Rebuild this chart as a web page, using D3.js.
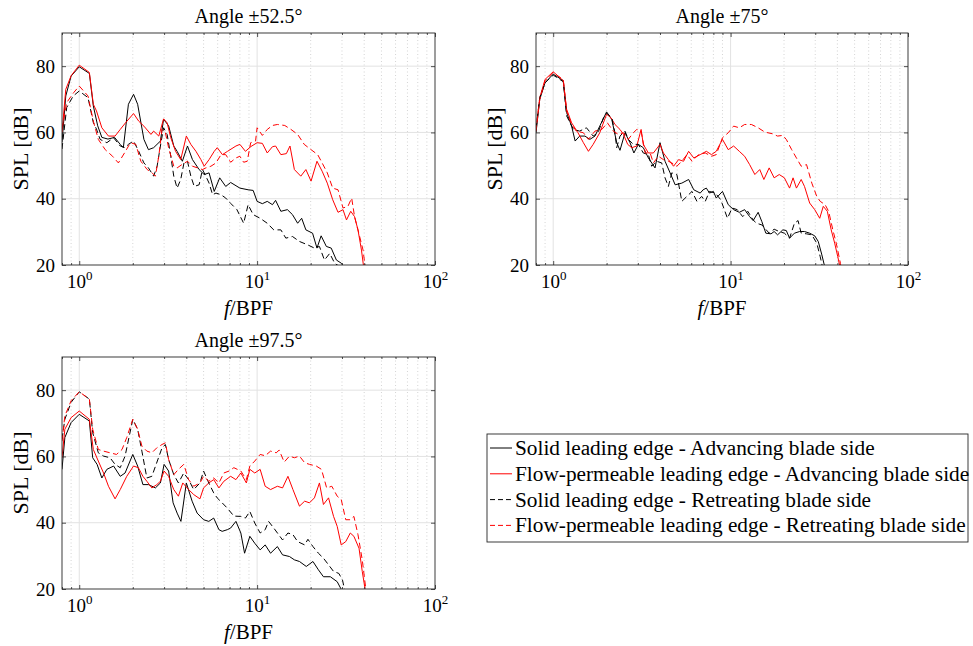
<!DOCTYPE html>
<html>
<head>
<meta charset="utf-8">
<script src="https://cdn.jsdelivr.net/npm/d3@7"></script>
<style>
body { margin: 0; background: #fff; }
text { font-family: "Liberation Serif", "Times New Roman", serif; fill: #000; }
</style>
</head>
<body>
<svg id="chart" width="973" height="646"></svg>
<script>
// ---- data: [f/BPF, SPL dB] ----
const p1SolidAdv = [[0.8,57],[0.84,71],[0.9,77],[1.0,79.8],[1.14,77.8],[1.2,68],[1.27,62],[1.34,58.5],[1.45,58],[1.58,58.5],[1.70,56.4],[1.77,55.4],[1.89,68.5],[2.02,71.5],[2.13,68.5],[2.31,57.9],[2.45,54.8],[2.62,55.4],[2.86,57.4],[2.98,64],[3.18,62],[3.4,55.9],[3.55,54.3],[3.8,51.3],[4.06,55.9],[4.33,51.8],[4.72,48.8],[5.04,47.3],[5.37,47.8],[5.74,42.2],[6.16,46.3],[6.66,43.7],[7.1,44.9],[8.0,43.2],[8.9,42.7],[9.5,42.5],[10,39.2],[10.7,38.5],[11.4,39.2],[12.2,38.2],[12.7,39.5],[13.6,36.2],[14.8,36.7],[15.8,35.2],[16.9,32.6],[17.8,34.1],[18.8,30.6],[20.5,29.6],[21.7,25.1],[22.9,28.8],[24.5,25.6],[26.1,25.1],[27.9,21.5],[29.8,20.5],[31.8,18]];
const p1PermAdv = [[0.8,60],[0.84,73],[0.9,77.1],[1.0,80.3],[1.14,78.1],[1.2,68.5],[1.25,66.5],[1.34,61.4],[1.46,58.9],[1.59,58.9],[1.70,60.9],[1.82,62.9],[2.02,65.7],[2.16,63.4],[2.31,61.9],[2.53,59.4],[2.62,60.4],[2.8,58.9],[2.98,64.1],[3.12,62.9],[3.27,58.4],[3.48,54.3],[3.72,51.8],[4.0,58.9],[4.24,56.4],[4.53,54.3],[4.83,51.8],[5.04,49.8],[5.37,51.8],[5.74,54.3],[5.97,55.4],[6.38,53.3],[6.82,54.3],[7.6,55.9],[8,56.4],[8.6,54.3],[9.2,55.7],[10,56.9],[10.7,56.7],[11.4,53.8],[12.2,55.7],[12.7,55.9],[13.6,53.3],[14.6,53.6],[15.3,55.9],[16.2,48.8],[17.6,46.8],[18.8,48.8],[20.1,45.3],[21.7,51.3],[23.2,48.3],[24.8,44.7],[26.6,39.7],[28.5,35.9],[30.4,36.7],[31.8,33.6],[33.6,36.2],[35.3,34.6],[36.9,30.6],[38.6,24.5],[39.8,19]];
const p1SolidRet = [[0.8,55],[0.85,67.5],[0.925,71],[1.0,72.5],[1.12,70.5],[1.2,63],[1.25,61],[1.31,57.9],[1.43,56.9],[1.56,58.4],[1.7,55.9],[1.81,55.4],[1.89,56.4],[2.02,57.4],[2.16,54.3],[2.31,50.8],[2.45,49.3],[2.62,46.8],[2.74,49.8],[2.86,55.9],[2.98,61.4],[3.12,59.4],[3.27,52.8],[3.4,46.8],[3.55,43.2],[3.72,45.8],[3.88,50.8],[4.06,51.3],[4.24,46.8],[4.43,43.7],[4.72,44.2],[4.93,48.8],[5.15,46.8],[5.37,44.7],[5.62,41.2],[5.87,41.7],[6.27,41.2],[6.66,40.2],[7.1,38.6],[7.7,36.7],[8.4,32.6],[8.9,38.2],[9.5,35.2],[10.4,34.1],[11.4,32.6],[12.4,30.6],[13.6,30.6],[14.5,28.1],[15.8,28.6],[17.3,27.1],[19.2,26.1],[21,25.1],[22.4,25.6],[23.9,21.5],[25.6,23.5],[27.3,20.5],[29.2,19.5]];
const p1PermRet = [[0.8,61],[0.85,69],[0.93,72],[1.0,74],[1.12,71],[1.2,63.4],[1.28,57.9],[1.4,54.8],[1.54,52.8],[1.66,50.8],[1.82,54.3],[1.94,56.9],[2.08,56.4],[2.22,51.3],[2.41,48.8],[2.57,47.8],[2.68,46.8],[2.8,52.8],[2.92,60.9],[3.05,59.9],[3.18,55.4],[3.4,49.8],[3.55,49.3],[3.78,50.3],[4.06,51.3],[4.33,49.8],[4.63,49.3],[4.93,48.8],[5.15,49.3],[5.5,49.8],[5.87,50.8],[6.27,53.3],[6.66,53.3],[7.1,51],[7.6,52.3],[8,52.8],[8.4,51],[8.8,51.3],[9.2,56.9],[9.8,57.4],[10.0,61.4],[10.7,59.1],[11.4,60.9],[12.2,62.1],[13,62.4],[14.3,62.1],[15.5,60.9],[16.9,59.4],[18.4,56.4],[20.1,54.8],[21.9,53.3],[23.2,50.8],[24.8,47.8],[26.6,43.2],[28.5,42.7],[30.4,37.2],[32.4,37.7],[34,40.2],[35.3,34.6],[37.7,28.6],[39.4,24.5],[40.6,19]];

const p2SolidAdv = [[0.8,59.9],[0.84,70],[0.9,75],[1.0,77.6],[1.14,75.6],[1.19,66],[1.27,61.9],[1.33,57.4],[1.41,58.9],[1.51,58.9],[1.61,57.9],[1.72,58.9],[1.83,61.9],[2.0,66.2],[2.14,63.9],[2.28,56.9],[2.38,54.6],[2.54,59.9],[2.71,56.9],[2.85,53.8],[3.02,56.4],[3.22,55.4],[3.44,52.3],[3.75,49.3],[4.0,56.9],[4.27,51.3],[4.56,47.8],[4.87,44.2],[5.31,44.7],[5.8,45.8],[6.2,42.7],[6.74,41.7],[7.0,42.7],[7.3,43.2],[7.6,41.7],[8.0,42.2],[8.3,40.2],[9.0,42.2],[9.7,38.2],[10.4,36.7],[11.2,35.9],[12.0,36.7],[12.8,34.6],[13.4,33.4],[14.3,35.9],[15.0,33.1],[15.8,29.6],[16.9,29.4],[17.6,30.1],[18.4,29.1],[19.7,30.6],[20.6,30.4],[21.5,28.1],[22.9,29.6],[24.5,30.1],[26.1,30.1],[27.9,29.6],[29.8,28.8],[31.2,27.1],[32.6,23.3],[34.1,19]];
const p2PermAdv = [[0.8,61],[0.84,70.5],[0.9,76],[1.0,78.3],[1.14,75.6],[1.19,67],[1.27,62.9],[1.38,59.9],[1.48,56.9],[1.58,54.3],[1.68,56.4],[1.83,59.9],[2.0,65.5],[2.12,64.4],[2.23,62.4],[2.38,60.9],[2.49,59.4],[2.63,56.4],[2.77,55.4],[2.96,55.9],[3.13,60.9],[3.22,56.4],[3.44,53.8],[3.67,53.8],[4.0,56.4],[4.18,53.8],[4.46,51.8],[4.77,49.8],[5.09,51.8],[5.43,51.3],[5.8,54.3],[6.2,52.3],[6.74,53.3],[7.3,54.3],[7.8,53.3],[8.3,54.3],[9.0,57.9],[9.7,54.8],[10.4,55.9],[11.2,54.3],[12.0,52.8],[12.8,50.3],[13.7,47.3],[14.6,48.8],[15.4,45.8],[16.5,49.3],[17.6,46.3],[18.8,47.3],[20.1,46.3],[21.5,43.2],[22.5,46.3],[23.5,43.2],[25,45.8],[26.1,43.7],[27.9,38.7],[29.8,36.7],[31.8,34.1],[33.3,37.7],[35.1,36.2],[36.9,30.6],[38.6,26.6],[40.2,22.5],[41.5,19]];
const p2SolidRet = [[0.8,61],[0.84,70.5],[0.9,75],[1.0,77.3],[1.14,75.3],[1.19,65],[1.30,60.9],[1.41,60.4],[1.54,61.4],[1.68,58.9],[1.79,59.9],[1.92,64.4],[2.0,65.8],[2.14,64.4],[2.23,59.9],[2.28,55.4],[2.38,58.9],[2.54,60.4],[2.65,57.9],[2.83,56.4],[3.02,56.4],[3.22,53.8],[3.44,53.3],[3.59,49.8],[3.83,51.3],[4.09,50.8],[4.27,46.3],[4.46,43.7],[4.66,47.8],[4.98,47.3],[5.31,39.2],[5.67,40.7],[6.06,42.2],[6.46,39.2],[6.87,40.7],[7.2,39.2],[7.6,42.2],[8.2,41.7],[8.8,39.7],[9.6,34.1],[10.2,37.2],[10.9,36.7],[11.7,34.6],[12.5,36.2],[13.4,33.6],[14,32.6],[15,32.1],[16.5,29.6],[17.6,30.8],[18.8,30.1],[20.1,29.6],[21.5,28.1],[22.9,32.6],[24,33.4],[25,29.6],[26.8,29.4],[28.7,29.1],[30.6,26.6],[32,22.5],[33.1,19]];
const p2PermRet = [[0.8,60.4],[0.84,70],[0.9,75.6],[1.0,78.1],[1.14,75.9],[1.19,66.5],[1.27,62.4],[1.35,60.4],[1.48,59.9],[1.58,57.9],[1.72,60.4],[1.88,60.9],[2.02,62.9],[2.18,60.4],[2.33,59.4],[2.49,59.9],[2.65,57.9],[2.83,59.9],[2.96,60.9],[3.13,60.4],[3.3,53.8],[3.52,53.8],[3.67,50.8],[3.92,52.8],[4.18,51.8],[4.46,51.3],[4.66,50.8],[4.98,49.8],[5.31,51.3],[5.67,53.3],[6.06,51.3],[6.6,53.3],[7.2,53.8],[7.8,52.8],[8.3,53.3],[9.0,58.4],[9.7,59.9],[10.4,61.9],[11.2,61.4],[12.0,62.4],[13.1,62.4],[14.3,61.4],[15.6,60.1],[17.2,59.6],[18.4,58.9],[19.7,59.1],[20.6,57.9],[22.1,54.8],[23.5,52.3],[25,49.8],[26.8,50.3],[28.7,44.7],[30.6,40.7],[32,39.2],[34.1,38.2],[35.7,36.2],[37.7,30.6],[39.4,26.6],[41.6,20.5],[42,19]];

const p3SolidAdv = [[0.8,56.1],[0.83,65.7],[0.9,70.2],[1.0,72.7],[1.14,70.7],[1.19,59.6],[1.26,57.6],[1.34,53.5],[1.43,56.1],[1.56,57.1],[1.7,54],[1.81,55],[2.0,60.6],[2.13,57.1],[2.28,51.5],[2.45,51.5],[2.68,50.5],[2.86,52],[3.0,57.6],[3.18,55.6],[3.37,46],[3.55,42.9],[3.73,40.4],[4.0,52],[4.31,46.5],[4.6,42.9],[5.0,40.9],[5.35,40.4],[5.7,41.4],[6.1,37.9],[6.36,37.4],[6.8,37.9],[7.1,38.4],[7.6,40.4],[8.1,36.9],[8.5,30.8],[9.1,35.9],[9.7,33.8],[10.4,31.8],[11.1,33.3],[11.9,30.8],[13,32.8],[13.9,30.3],[15.2,29.8],[16.2,28.8],[17.3,28.3],[18.9,26.8],[20.6,28.3],[22.1,25.8],[23.6,23.7],[25.8,23.7],[28.2,22.2],[29.5,20.2],[30.2,19]];
const p3PermAdv = [[0.8,59.6],[0.83,68.2],[0.9,71.7],[1.0,73.7],[1.14,71.2],[1.2,62.1],[1.28,58.6],[1.37,55],[1.46,51],[1.59,47.2],[1.7,50],[1.85,54],[2.02,57.1],[2.15,56.6],[2.28,54],[2.4,52.5],[2.56,50.5],[2.73,51.5],[2.86,52.5],[3.0,55.6],[3.18,54],[3.4,50],[3.61,48],[3.82,52],[4.12,50],[4.4,48.5],[4.77,47.2],[5.0,50.5],[5.35,52],[5.7,53],[6.1,50.5],[6.5,52.5],[7.1,54],[7.6,53],[8.1,55],[8.7,52],[9.1,56.1],[9.7,55],[10.4,56.1],[11.1,51],[11.9,50],[13,51],[13.9,50.5],[14.9,54],[15.9,50],[17.3,45],[18.5,46.5],[19.7,46],[21,47.5],[22.4,52],[23.6,45.5],[25.2,47.5],[26.9,41.9],[28.2,38.9],[29.7,33.3],[31.5,34.3],[33.4,36.9],[35,35.9],[37.4,32.3],[39,25.3],[40.4,20.2],[40.6,19]];
const p3SolidRet = [[0.8,65.2],[0.83,71.2],[0.9,76.3],[1.0,79.5],[1.14,77.3],[1.19,67.2],[1.28,61.1],[1.37,60.1],[1.49,59.6],[1.59,57.6],[1.7,56.6],[1.81,60.1],[2.0,71.2],[2.13,68.2],[2.25,61.6],[2.4,53.5],[2.56,54],[2.79,59.6],[2.92,62.6],[3.05,63.6],[3.18,59.1],[3.4,54.5],[3.61,52],[3.87,55],[4.12,53],[4.4,50],[4.77,52],[5.0,55.6],[5.35,52],[5.7,49],[5.96,47.5],[6.36,46],[6.8,44.4],[7.4,42],[8.1,41.9],[8.6,41.4],[9.1,43.4],[9.7,39.9],[10.4,36.9],[11.1,37.9],[11.6,40.4],[12.4,38.4],[13.9,34.8],[14.9,36.9],[15.9,36.4],[16.9,34.3],[18.5,33.3],[19.3,35],[20.6,32.8],[22.1,30.8],[23.6,29.3],[25.2,27.3],[26.9,25.3],[28.8,24.7],[30.2,22.7],[30.9,20.2],[31.2,19]];
const p3PermRet = [[0.8,64.6],[0.83,72.2],[0.9,76.8],[1.0,79.5],[1.14,77.3],[1.19,68.2],[1.28,62.1],[1.37,61.6],[1.49,61.1],[1.62,60.6],[1.74,62.1],[1.85,65.7],[2.0,71.2],[2.13,68.2],[2.25,63.1],[2.4,61.6],[2.56,61.1],[2.73,62.6],[2.92,63.6],[3.05,64.1],[3.18,59.1],[3.4,54.5],[3.61,56.1],[3.87,57.6],[4.12,53],[4.4,51],[4.77,52],[5.0,54],[5.35,52.5],[5.7,53.5],[6.1,52],[6.5,55],[6.96,55.6],[7.4,56.6],[8.1,55.6],[8.7,53],[9.1,57.1],[9.7,58.6],[10.4,60.6],[11.1,60.2],[11.9,61.6],[12.8,61.1],[13.3,61.9],[14.2,58.3],[15.2,60.1],[16.2,59.6],[17.3,60.1],[18.5,58.1],[19.7,57.6],[21.5,57.1],[23.0,56.1],[24.6,50.5],[26.3,51],[28.2,48],[29.7,47],[31.5,40.9],[33.4,40.9],[35,41.9],[36.9,36.4],[39,28.8],[40.8,20.2],[41,19]];

const panelTitles = ['Angle \u00B152.5\u00B0', 'Angle \u00B175\u00B0', 'Angle \u00B197.5\u00B0'];
const seriesNames = [
  'Solid leading edge - Advancing blade side',
  'Flow-permeable leading edge - Advancing blade side',
  'Solid leading edge - Retreating blade side',
  'Flow-permeable leading edge - Retreating blade side'
];
const panelData = [
  [p1SolidAdv, p1PermAdv, p1SolidRet, p1PermRet],
  [p2SolidAdv, p2PermAdv, p2SolidRet, p2PermRet],
  [p3SolidAdv, p3PermAdv, p3SolidRet, p3PermRet]
];
const yTicks = [20, 40, 60, 80];
const xMajorTicks = [1, 10, 100];
const xMinorTicks = [0.8, 0.9, 2, 3, 4, 5, 6, 7, 8, 9, 20, 30, 40, 50, 60, 70, 80, 90];

// ---- layout / style ----
const panels = [
  { left: 62, top: 33, width: 373, height: 232 },
  { left: 536, top: 33, width: 372, height: 232 },
  { left: 62, top: 357, width: 373, height: 232 }
];
const seriesStyle = [
  { color: '#000000', dash: null },
  { color: '#ff0000', dash: null },
  { color: '#000000', dash: '6,3.5' },
  { color: '#ff0000', dash: '6,3.5' }
];
const axisColor = '#262626';

const svg = d3.select('#chart');

panels.forEach((p, i) => {
  const g = svg.append('g').attr('transform', `translate(${p.left},${p.top})`);

  const x = d3.scaleLog().domain([0.8, 100]).range([0, p.width]);
  const y = d3.scaleLinear().domain([20, 90]).range([p.height, 0]);

  // clip so curves stop at the axes
  g.append('clipPath').attr('id', 'clip' + i)
    .append('rect').attr('width', p.width).attr('height', p.height);

  // minor grid (dotted)
  g.append('g').selectAll('line')
    .data(xMinorTicks.filter(d => d > 0.8))
    .enter().append('line')
    .attr('x1', d => x(d)).attr('x2', d => x(d))
    .attr('y1', 0).attr('y2', p.height)
    .attr('stroke', '#c9c9c9').attr('stroke-width', 0.8)
    .attr('stroke-dasharray', '1,2.5');

  // major grid
  g.append('g').selectAll('line')
    .data(xMajorTicks.filter(d => d < 100))
    .enter().append('line')
    .attr('x1', d => x(d)).attr('x2', d => x(d))
    .attr('y1', 0).attr('y2', p.height)
    .attr('stroke', '#e2e2e2').attr('stroke-width', 1);
  g.append('g').selectAll('line')
    .data(yTicks.filter(d => d > 20))
    .enter().append('line')
    .attr('x1', 0).attr('x2', p.width)
    .attr('y1', d => y(d)).attr('y2', d => y(d))
    .attr('stroke', '#e2e2e2').attr('stroke-width', 1);

  // curves
  const line = d3.line().x(d => x(d[0])).y(d => y(d[1]));
  const curves = g.append('g').attr('clip-path', `url(#clip${i})`);
  panelData[i].forEach((series, k) => {
    curves.append('path')
      .datum(series)
      .attr('fill', 'none')
      .attr('stroke', seriesStyle[k].color)
      .attr('stroke-width', 1)
      .attr('stroke-dasharray', seriesStyle[k].dash)
      .attr('d', line);
  });

  // axes with inward ticks on all four sides
  const styleAxis = sel => {
    sel.select('.domain').remove();
    sel.selectAll('.tick line').attr('stroke', axisColor).attr('stroke-width', 0.8);
  };
  g.append('g').attr('transform', `translate(0,${p.height})`)
    .call(d3.axisBottom(x).tickValues(xMinorTicks).tickSize(-2).tickFormat(''))
    .call(styleAxis);
  g.append('g')
    .call(d3.axisTop(x).tickValues(xMinorTicks).tickSize(-2).tickFormat(''))
    .call(styleAxis);
  g.append('g').attr('transform', `translate(0,${p.height})`)
    .call(d3.axisBottom(x).tickValues(xMajorTicks).tickSize(-4).tickPadding(10).tickFormat(''))
    .call(styleAxis)
    .call(a => a.selectAll('.tick text').each(function (d) {
      const t = d3.select(this).attr('font-size', 19).attr('fill', '#000');
      t.append('tspan').text('10');
      t.append('tspan').attr('dy', -8).attr('font-size', 13).text(Math.round(Math.log10(d)));
    }));
  g.append('g')
    .call(d3.axisTop(x).tickValues(xMajorTicks).tickSize(-4).tickFormat(''))
    .call(styleAxis);
  g.append('g')
    .call(d3.axisLeft(y).tickValues(yTicks).tickSize(-4).tickPadding(7))
    .call(styleAxis)
    .call(a => a.selectAll('.tick text').attr('font-size', 19).attr('fill', '#000')
      .attr('font-family', '"Liberation Serif", serif'));
  g.append('g').attr('transform', `translate(${p.width},0)`)
    .call(d3.axisRight(y).tickValues(yTicks).tickSize(-4).tickFormat(''))
    .call(styleAxis);

  // box
  g.append('rect')
    .attr('width', p.width).attr('height', p.height)
    .attr('fill', 'none').attr('stroke', axisColor).attr('stroke-width', 0.9);

  // title
  g.append('text')
    .attr('x', p.width / 2).attr('y', -10)
    .attr('text-anchor', 'middle').attr('font-size', 20)
    .text(panelTitles[i]);

  // axis labels
  const xl = g.append('text')
    .attr('x', p.width / 2).attr('y', p.height + 50)
    .attr('text-anchor', 'middle').attr('font-size', 21);
  xl.append('tspan').attr('font-style', 'italic').text('f');
  xl.append('tspan').text('/BPF');

  g.append('text')
    .attr('transform', `translate(-34,${p.height / 2}) rotate(-90)`)
    .attr('text-anchor', 'middle').attr('font-size', 22)
    .text('SPL [dB]');
});

// legend
const legend = svg.append('g').attr('transform', 'translate(487,434)');
legend.append('rect')
  .attr('width', 481).attr('height', 108)
  .attr('fill', '#fff').attr('stroke', axisColor).attr('stroke-width', 0.9);
seriesNames.forEach((name, k) => {
  const ry = 14 + k * 25.8;
  legend.append('line')
    .attr('x1', 3).attr('x2', 25).attr('y1', ry).attr('y2', ry)
    .attr('stroke', seriesStyle[k].color).attr('stroke-width', 1)
    .attr('stroke-dasharray', seriesStyle[k].dash ? '5,3' : null);
  legend.append('text')
    .attr('x', 28).attr('y', ry).attr('dy', '0.33em')
    .attr('font-size', 21.3)
    .text(name);
});
</script>
</body>
</html>
